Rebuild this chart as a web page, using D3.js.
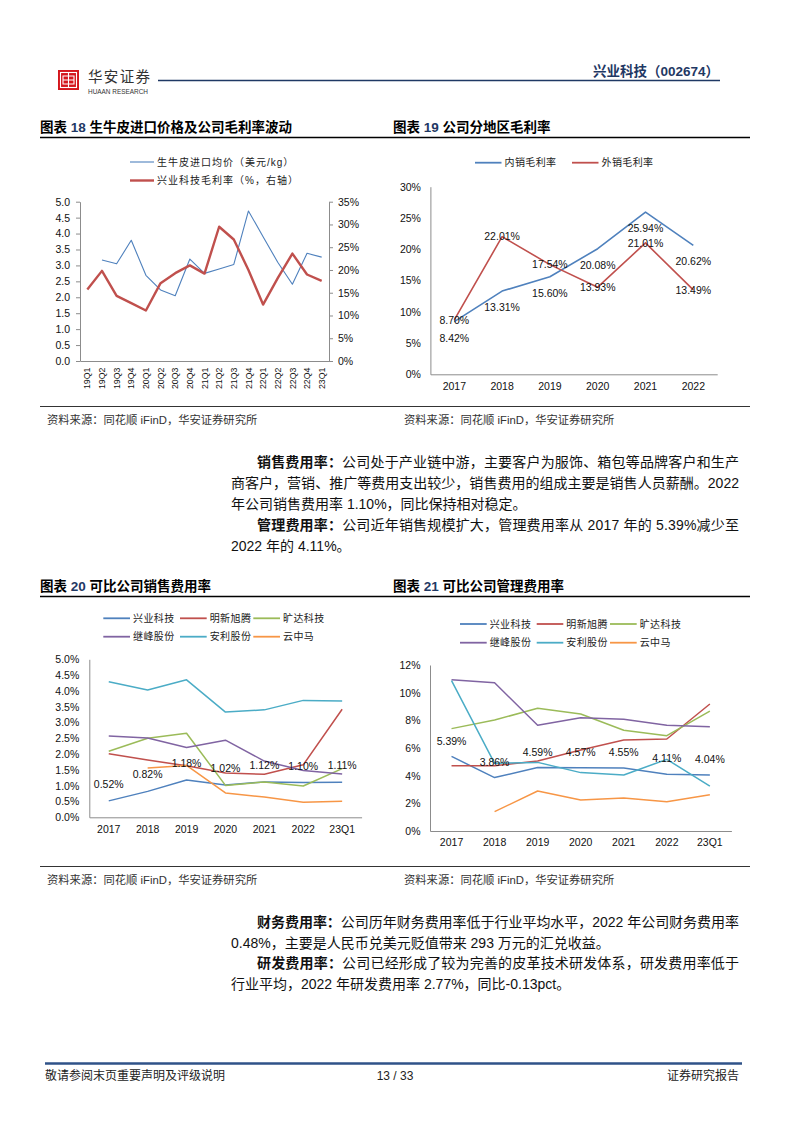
<!DOCTYPE html>
<html><head><meta charset="utf-8">
<script src="https://cdn.jsdelivr.net/npm/d3@7/dist/d3.min.js"></script>
<style>
html,body{margin:0;padding:0;background:#fff;}
svg{display:block;}
text{font-family:"Liberation Sans","Noto Sans CJK SC",sans-serif;}
</style></head><body>
<svg id="page" width="794" height="1123"></svg>
<script>
// ---------- DATA ----------
const quarters = ["19Q1","19Q2","19Q3","19Q4","20Q1","20Q2","20Q3","20Q4","21Q1","21Q2","21Q3","21Q4","22Q1","22Q2","22Q3","22Q4","23Q1"];
const hidePrice = [null,3.17,3.05,3.79,2.69,2.23,2.05,3.20,2.75,2.89,3.03,4.71,3.90,3.10,2.41,3.38,3.26];
const grossMargin = [15.7,19.8,14.3,12.7,11.1,17.1,19.3,21.0,19.2,29.5,26.7,20.0,12.4,18.2,23.6,19.0,17.6];
const priceTicks = [0,0.5,1,1.5,2,2.5,3,3.5,4,4.5,5];
const marginTicks = [0,5,10,15,20,25,30,35];

const years19 = ["2017","2018","2019","2020","2021","2022"];
const domesticMargin = [8.42,13.31,15.60,20.08,25.94,20.62];
const exportMargin = [8.70,22.01,17.54,13.93,21.01,13.49];
const ticks19 = [0,5,10,15,20,25,30];

const periods = ["2017","2018","2019","2020","2021","2022","23Q1"];
const companies = ["兴业科技","明新旭腾","旷达科技","继峰股份","安利股份","云中马"];
const salesXingye  = [0.52,0.82,1.18,1.02,1.12,1.10,1.11];
const salesMingxin = [2.01,1.81,1.63,1.40,1.36,1.66,3.42];
const salesKuangda = [2.09,2.50,2.66,1.01,1.12,0.99,1.54];
const salesJifeng  = [2.57,2.51,2.21,2.44,1.78,1.48,1.37];
const salesAnli    = [4.29,4.03,4.35,3.33,3.40,3.70,3.68];
const salesYzm     = [null,1.56,1.64,0.77,0.64,0.48,0.51];
const ticks20 = [0,0.5,1,1.5,2,2.5,3,3.5,4,4.5,5];

const adminXingye  = [5.39,3.86,4.59,4.57,4.55,4.11,4.04];
const adminMingxin = [4.72,4.72,5.06,5.86,6.58,6.65,9.18];
const adminKuangda = [7.40,8.02,8.87,8.46,7.28,6.89,8.67];
const adminJifeng  = [10.94,10.72,7.64,8.19,8.07,7.64,7.54];
const adminAnli    = [10.87,4.89,4.96,4.22,4.05,5.18,3.25];
const adminYzm     = [null,1.40,2.89,2.24,2.39,2.12,2.62];
const ticks21 = [0,2,4,6,8,10,12];

const companyColors = ["#4F81BD","#C0504D","#9BBB59","#8064A2","#4BACC6","#F79646"];

// ---------- PAGE ----------
const svg = d3.select("#page");
const NAVY = "#1F3864";

// header logo
const logo = svg.append("g");
logo.append("rect").attr("x",58).attr("y",70).attr("width",21).attr("height",20).attr("fill","#D4161C");
logo.append("rect").attr("x",60.5).attr("y",72.5).attr("width",16).attr("height",15).attr("fill","none").attr("stroke","#fff").attr("stroke-width",1.1);
logo.append("path").attr("d","M63 76H74V84H63Z M68.5 73V87 M63 80H74").attr("fill","none").attr("stroke","#fff").attr("stroke-width",1.1);
svg.append("text").attr("x",88).attr("y",82).attr("font-size",14.5).attr("fill","#333")
  .attr("font-family",'"Noto Sans CJK SC",sans-serif').attr("textLength",62).attr("lengthAdjust","spacing").text("华安证券");
svg.append("text").attr("x",88).attr("y",94).attr("font-size",6.6).attr("fill","#333")
  .attr("font-family",'"Liberation Serif",serif').attr("textLength",60).attr("lengthAdjust","spacingAndGlyphs").text("HUAAN RESEARCH");
svg.append("line").attr("x1",158).attr("x2",720).attr("y1",80.5).attr("y2",80.5).attr("stroke",NAVY).attr("stroke-width",1.3);
svg.append("text").attr("x",719).attr("y",75.5).attr("text-anchor","end").attr("font-size",13.5).attr("font-weight",700)
  .attr("fill",NAVY).text("兴业科技（002674）");

// figure titles
function figTitle(x, y, num, title) {
  const t = svg.append("text").attr("x",x).attr("y",y).attr("font-size",13.5).attr("font-weight",700).attr("fill","#000");
  t.append("tspan").text("图表 ");
  t.append("tspan").attr("fill",NAVY).text(num);
  t.append("tspan").text(" " + title);
}
figTitle(40,132,"18","生牛皮进口价格及公司毛利率波动");
figTitle(393,132,"19","公司分地区毛利率");
figTitle(40,590.5,"20","可比公司销售费用率");
figTitle(393,590.5,"21","可比公司管理费用率");
svg.append("line").attr("x1",40).attr("x2",750).attr("y1",137.5).attr("y2",137.5).attr("stroke","#000").attr("stroke-width",1.4);
svg.append("line").attr("x1",40).attr("x2",750).attr("y1",596.5).attr("y2",596.5).attr("stroke","#000").attr("stroke-width",1.4);
svg.append("line").attr("x1",40).attr("x2",750).attr("y1",406.5).attr("y2",406.5).attr("stroke","#000").attr("stroke-width",0.8);
svg.append("line").attr("x1",40).attr("x2",750).attr("y1",866.5).attr("y2",866.5).attr("stroke","#000").attr("stroke-width",0.8);

// sources
const SRC = "资料来源：同花顺 iFinD，华安证券研究所";
[[47,424],[404,424],[47,884],[404,884]].forEach(p=>{
  svg.append("text").attr("x",p[0]).attr("y",p[1]).attr("font-size",11.3).attr("fill","#333").text(SRC);
});

// body text
const bodyLines = [
  {x:257,y:467,len:482,parts:[["销售费用率：",1],["公司处于产业链中游，主要客户为服饰、箱包等品牌客户和生产",0]]},
  {x:231,y:488,len:508,parts:[["商客户，营销、推广等费用支出较少，销售费用的组成主要是销售人员薪酬。2022",0]]},
  {x:231,y:509,len:0,parts:[["年公司销售费用率 1.10%，同比保持相对稳定。",0]]},
  {x:257,y:530,len:482,parts:[["管理费用率：",1],["公司近年销售规模扩大，管理费用率从 2017 年的 5.39%减少至",0]]},
  {x:231,y:551,len:0,parts:[["2022 年的 4.11%。",0]]},
  {x:257,y:927,len:482,parts:[["财务费用率：",1],["公司历年财务费用率低于行业平均水平，2022 年公司财务费用率",0]]},
  {x:231,y:947.5,len:0,parts:[["0.48%，主要是人民币兑美元贬值带来 293 万元的汇兑收益。",0]]},
  {x:257,y:968,len:482,parts:[["研发费用率：",1],["公司已经形成了较为完善的皮革技术研发体系，研发费用率低于",0]]},
  {x:231,y:988.5,len:0,parts:[["行业平均，2022 年研发费用率 2.77%，同比-0.13pct。",0]]}
];
bodyLines.forEach(l=>{
  const t = svg.append("text").attr("x",l.x).attr("y",l.y).attr("font-size",14).attr("fill","#111");
  if (l.len) t.attr("textLength",l.len).attr("lengthAdjust","spacing");
  l.parts.forEach(p=>t.append("tspan").attr("font-weight",p[1]?700:400).text(p[0]));
});

// footer
svg.append("line").attr("x1",45).attr("x2",742).attr("y1",1063.5).attr("y2",1063.5).attr("stroke","#2F5288").attr("stroke-width",2.4);
svg.append("text").attr("x",45).attr("y",1079.5).attr("font-size",12).attr("fill","#222").text("敬请参阅末页重要声明及评级说明");
svg.append("text").attr("x",395).attr("y",1079.5).attr("font-size",12).attr("fill","#222").attr("text-anchor","middle").text("13 / 33");
svg.append("text").attr("x",739).attr("y",1079.5).attr("font-size",12).attr("fill","#222").attr("text-anchor","end").text("证券研究报告");

// ---------- helpers ----------
function styleAxis(g){
  g.selectAll("path.domain").attr("stroke","#8C8C8C").attr("stroke-width",1);
  g.selectAll(".tick line").attr("stroke","#8C8C8C");
  g.selectAll(".tick text").attr("font-size",10.5).attr("fill","#111")
    .attr("font-family",'"Liberation Sans",sans-serif');
}
function drawLine(g, x, y, cats, vals, color, w){
  const line = d3.line().defined(d=>d.v!=null).x(d=>x(d.c)+x.bandwidth()/2).y(d=>y(d.v));
  g.append("path").datum(cats.map((c,i)=>({c:c,v:vals[i]})))
    .attr("d",line).attr("fill","none").attr("stroke",color).attr("stroke-width",w).attr("stroke-linejoin","round");
}
function legendItem(g, x1, x2, y, color, w, label, ls){
  g.append("line").attr("x1",x1).attr("x2",x2).attr("y1",y).attr("y2",y).attr("stroke",color).attr("stroke-width",w);
  g.append("text").attr("x",x2+3).attr("y",y).attr("dy","0.36em").attr("font-size",10).attr("fill","#222")
    .attr("letter-spacing",ls||0.4)
    .attr("font-family",'"Noto Sans CJK SC",sans-serif').text(label);
}

// ---------- CHART 18 ----------
{
  const g = svg.append("g");
  const x = d3.scaleBand().domain(quarters).range([80,329]);
  const yL = d3.scaleLinear().domain([0,5]).range([361,201.7]);
  const yR = d3.scaleLinear().domain([0,35]).range([361,201.7]);
  const aL = g.append("g").attr("transform","translate(80,0)")
    .call(d3.axisLeft(yL).tickValues(priceTicks).tickFormat(d3.format(".1f")).tickSize(4).tickSizeOuter(0).tickPadding(6));
  styleAxis(aL);
  const aR = g.append("g").attr("transform","translate(329,0)")
    .call(d3.axisRight(yR).tickValues(marginTicks).tickFormat(d=>d+"%").tickSize(4).tickSizeOuter(0).tickPadding(5));
  styleAxis(aR);
  const aB = g.append("g").attr("transform","translate(0,361)")
    .call(d3.axisBottom(x).tickSize(0).tickSizeOuter(0).tickFormat(""));
  styleAxis(aB);
  g.selectAll("text.q").data(quarters).join("text")
    .attr("transform",d=>`translate(${x(d)+x.bandwidth()/2},367.5) rotate(-90)`)
    .attr("text-anchor","end").attr("dy","0.36em").attr("font-size",8.8).attr("fill","#111").text(d=>d);
  drawLine(g,x,yL,quarters,hidePrice,"#4F81BD",1.1);
  drawLine(g,x,yR,quarters,grossMargin,"#C0504D",2.4);
  legendItem(g,130,154,162,"#4F81BD",1.1,"生牛皮进口均价（美元/kg）",1.0);
  legendItem(g,130,154,180.5,"#C0504D",2.4,"兴业科技毛利率（%，右轴）",1.0);
}

// ---------- CHART 19 ----------
{
  const g = svg.append("g");
  const x = d3.scaleBand().domain(years19).range([430.4,717.2]);
  const y = d3.scaleLinear().domain([0,30]).range([374.3,186.7]);
  const aL = g.append("g").attr("transform","translate(430.4,0)")
    .call(d3.axisLeft(y).tickValues(ticks19).tickFormat(d=>d+"%").tickSize(0).tickSizeOuter(0).tickPadding(9.5));
  styleAxis(aL);
  const aB = g.append("g").attr("transform","translate(0,374.3)")
    .call(d3.axisBottom(x).tickSize(0).tickSizeOuter(0).tickPadding(8));
  styleAxis(aB);
  drawLine(g,x,y,years19,domesticMargin,"#4F81BD",1.6);
  drawLine(g,x,y,years19,exportMargin,"#C0504D",1.6);
  const cx = d=>x(d)+x.bandwidth()/2;
  g.selectAll("text.red").data(years19).join("text")
    .attr("x",cx).attr("y",(d,i)=>y(exportMargin[i])).attr("dy","0.36em").attr("text-anchor","middle")
    .attr("font-size",10.5).attr("fill","#111").text((d,i)=>exportMargin[i].toFixed(2)+"%");
  g.selectAll("text.blue").data(years19).join("text")
    .attr("x",cx).attr("y",(d,i)=>y(domesticMargin[i])+16.3).attr("dy","0.36em").attr("text-anchor","middle")
    .attr("font-size",10.5).attr("fill","#111").text((d,i)=>domesticMargin[i].toFixed(2)+"%");
  legendItem(g,475,501.5,162.7,"#4F81BD",1.8,"内销毛利率");
  legendItem(g,572,598.5,162.7,"#C0504D",1.8,"外销毛利率");
}

// ---------- CHART 20 ----------
{
  const g = svg.append("g");
  const x = d3.scaleBand().domain(periods).range([89.3,361.6]);
  const y = d3.scaleLinear().domain([0,5]).range([817.3,659.3]);
  const aL = g.append("g").attr("transform","translate(89.3,0)")
    .call(d3.axisLeft(y).tickValues(ticks20).tickFormat(d=>d.toFixed(1)+"%").tickSize(0).tickSizeOuter(0).tickPadding(10));
  styleAxis(aL);
  const aB = g.append("g").attr("transform","translate(0,817.3)")
    .call(d3.axisBottom(x).tickSize(0).tickSizeOuter(0).tickPadding(8));
  styleAxis(aB);
  const series = [salesXingye,salesMingxin,salesKuangda,salesJifeng,salesAnli,salesYzm];
  series.forEach((s,i)=>drawLine(g,x,y,periods,s,companyColors[i],1.5));
  g.selectAll("text.lab").data(periods).join("text")
    .attr("x",d=>x(d)+x.bandwidth()/2).attr("y",(d,i)=>y(salesXingye[i])-16.8).attr("dy","0.36em")
    .attr("text-anchor","middle").attr("font-size",10.5).attr("fill","#111").text((d,i)=>salesXingye[i].toFixed(2)+"%");
  const cols = [[103.3,130],[180,206.7],[253.3,280]];
  companies.forEach((c,i)=>{
    const col = cols[i%3], yy = i<3?618.3:636.7;
    legendItem(g,col[0],col[1],yy,companyColors[i],1.8,c);
  });
}

// ---------- CHART 21 ----------
{
  const g = svg.append("g");
  const x = d3.scaleBand().domain(periods).range([430,731.4]);
  const y = d3.scaleLinear().domain([0,12]).range([831,665]);
  const aL = g.append("g").attr("transform","translate(430,0)")
    .call(d3.axisLeft(y).tickValues(ticks21).tickFormat(d=>d+"%").tickSize(0).tickSizeOuter(0).tickPadding(9.5));
  styleAxis(aL);
  const aB = g.append("g").attr("transform","translate(0,831)")
    .call(d3.axisBottom(x).tickSize(0).tickSizeOuter(0).tickPadding(8));
  styleAxis(aB);
  const series = [adminXingye,adminMingxin,adminKuangda,adminJifeng,adminAnli,adminYzm];
  series.forEach((s,i)=>drawLine(g,x,y,periods,s,companyColors[i],1.5));
  g.selectAll("text.lab").data(periods).join("text")
    .attr("x",d=>x(d)+x.bandwidth()/2).attr("y",(d,i)=>y(adminXingye[i])-15.6).attr("dy","0.36em")
    .attr("text-anchor","middle").attr("font-size",10.5).attr("fill","#111").text((d,i)=>adminXingye[i].toFixed(2)+"%");
  const cols = [[460,486.7],[536.7,563.3],[610,636.7]];
  companies.forEach((c,i)=>{
    const col = cols[i%3], yy = i<3?624:642.7;
    legendItem(g,col[0],col[1],yy,companyColors[i],1.8,c);
  });
}
</script>
</body></html>
